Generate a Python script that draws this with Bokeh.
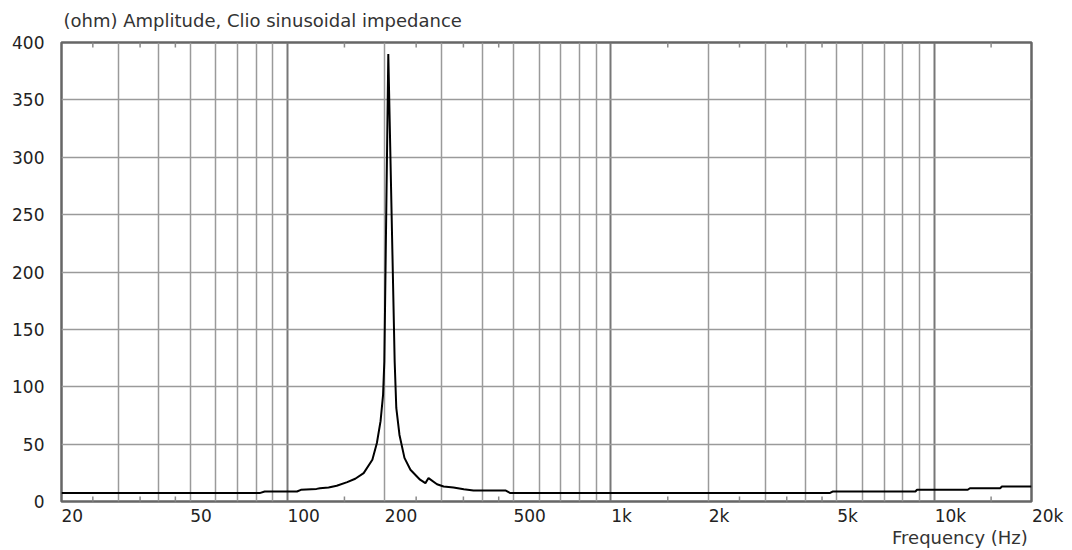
import numpy as np
from bokeh.plotting import figure
from bokeh.models import FixedTicker, LinearAxis, LogAxis, Grid, Title, Range1d
from bokeh.embed import file_html
from bokeh.resources import INLINE

# ---- data ----
freq_hz = [20, 82, 85, 107, 110, 123, 126, 134, 142, 153, 162, 172, 183, 189, 194,
           197.5, 199.3, 205, 214.5, 217, 222, 230, 240, 257, 267, 273, 290, 304,
           326, 351, 376, 472, 489, 4750, 4850, 8750, 8850, 12700, 12900, 16000,
           16200, 20000]
impedance_ohm = [7.3, 7.3, 8.7, 8.7, 10.2, 11.0, 11.6, 12.2, 13.7, 16.9, 19.8, 24.7,
                 36.4, 51, 70, 93, 122, 390, 122, 81.5, 58, 38, 27.7, 19, 16, 20.4,
                 15, 13.1, 12.2, 10.7, 9.6, 9.6, 7.3, 7.3, 8.7, 8.7, 10.2, 10.2,
                 11.6, 11.6, 13.1, 13.1]

x_tick_values = [20, 50, 100, 200, 500, 1000, 2000, 5000, 10000, 20000]
x_tick_labels = ["20", "50", "100", "200", "500", "1k", "2k", "5k", "10k", "20k"]
x_small_marks = [25, 35, 45, 150, 250, 350, 450, 1500, 2500, 3500, 4500, 15000]
x_grid_values = ([20, 30, 40, 50, 60, 70, 80, 90] + [200, 300, 400, 500, 600, 700, 800, 900]
                 + [2000, 3000, 4000, 5000, 6000, 7000, 8000, 9000] + [20000])
x_decade_values = [100, 1000, 10000]
y_tick_values = [0, 50, 100, 150, 200, 250, 300, 350, 400]

title_text = "(ohm)  Amplitude, Clio sinusoidal impedance"
x_label_text = "Frequency  (Hz)"

FONT = "DejaVu Sans"
TXT = "#222222"
NBSP = "\u00a0"
MARK = "#8a8a8a"

p = figure(width=1064, height=550, x_axis_type="log",
           x_axis_location=None, y_axis_location=None,
           x_range=Range1d(20, 20000), y_range=Range1d(0, 400),
           output_backend="svg", toolbar_location=None,
           min_border_left=61, min_border_right=33, min_border_top=42, min_border_bottom=49)
p.background_fill_color = "white"
p.border_fill_color = "white"
p.outline_line_color = "#666666"
p.outline_line_width = 2.5
p.xgrid.visible = False
p.ygrid.visible = False

# title (top-left)
p.title = Title(text=title_text, align="left", offset=2, standoff=19, vertical_align="top",
                text_font=FONT, text_font_size="18px", text_font_style="normal",
                text_color="#333333")

# bottom labelled axis (labels start at their grid line)
xb = LogAxis(ticker=FixedTicker(ticks=x_tick_values))
xb.major_label_overrides = {v: NBSP * (2 * len(s)) + s for v, s in zip(x_tick_values, x_tick_labels)}
xb.axis_line_color = None
xb.major_tick_line_color = None
xb.major_tick_in = 0
xb.major_tick_out = 0
xb.minor_tick_line_color = None
xb.major_label_standoff = 4
xb.major_label_text_font = FONT
xb.major_label_text_font_size = "17px"
xb.major_label_text_color = TXT
p.add_layout(xb, "below")

# x label (bottom-right)
p.add_layout(Title(text=x_label_text, align="right", offset=-2, standoff=-4, vertical_align="top",
                   text_font=FONT, text_font_size="18px", text_font_style="normal",
                   text_color="#333333"), "below")

# left axis
yl = LinearAxis(ticker=FixedTicker(ticks=y_tick_values))
yl.axis_line_color = None
yl.major_tick_line_color = None
yl.major_tick_in = 0
yl.major_tick_out = 0
yl.minor_tick_line_color = None
yl.major_label_standoff = 17
yl.major_label_text_font = FONT
yl.major_label_text_font_size = "17px"
yl.major_label_text_color = TXT
p.add_layout(yl, "left")

# grids
p.add_layout(Grid(dimension=0, ticker=FixedTicker(ticks=x_grid_values),
                  grid_line_color="#9a9a9a", grid_line_width=1.5))
p.add_layout(Grid(dimension=0, ticker=FixedTicker(ticks=x_decade_values),
                  grid_line_color="#777777", grid_line_width=2))
p.add_layout(Grid(dimension=1, ticker=FixedTicker(ticks=y_tick_values),
                  grid_line_color="#9a9a9a", grid_line_width=1.5))

# small tick marks along the bottom and top edges of the frame
for edge in (p.y_range.start, p.y_range.end):
    p.scatter(x_small_marks, [edge] * len(x_small_marks), marker="dash", angle=np.pi / 2,
              size=10, line_color=MARK, line_width=1.5)

# curve
p.line(freq_hz, impedance_ohm, line_color="black", line_width=2)

open("out.html", "w").write(file_html(p, INLINE))
